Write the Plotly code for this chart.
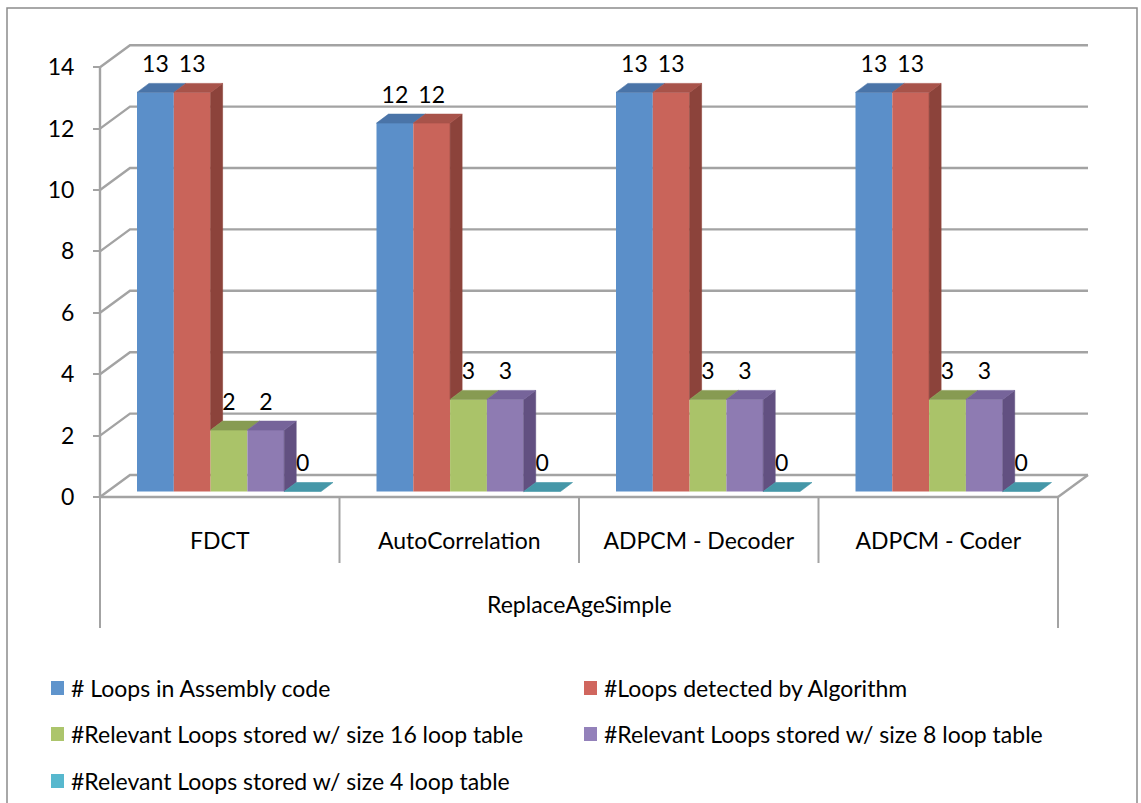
import plotly.graph_objects as go

# ---- data -------------------------------------------------------------
categories = ["FDCT", "AutoCorrelation", "ADPCM - Decoder", "ADPCM - Coder"]
group_label = "ReplaceAgeSimple"
series_names = [
    "# Loops in Assembly code",
    "#Loops detected by Algorithm",
    "#Relevant Loops stored w/ size 16 loop table",
    "#Relevant Loops stored w/ size 8 loop table",
    "#Relevant Loops stored w/ size 4 loop table",
]
loops_assembly = [13, 12, 13, 13]
loops_detected = [13, 12, 13, 13]
relevant_16 = [2, 3, 3, 3]
relevant_8 = [2, 3, 3, 3]
relevant_4 = [0, 0, 0, 0]
y_ticks = [0, 2, 4, 6, 8, 10, 12, 14]

series_values = [loops_assembly, loops_detected, relevant_16, relevant_8, relevant_4]

# ---- styles (front, top, side, legend) ---------------------------------
front_colors = ["#5B8FC9", "#C9645A", "#AAC369", "#8E7BB2", "#4BACC6"]
top_colors = ["#4A74A8", "#A8534A", "#879B52", "#76649A", "#4597A8"]
side_colors = ["#3F6590", "#8C433B", "#748744", "#625081", "#3A8393"]
legend_colors = ["#5F94CC", "#D0665E", "#ACC56C", "#9381BA", "#57B8CE"]
GRID = "#A3A3A3"
FONT = "Lato"
FS = 23

# ---- frame geometry (pixels) -----------------------------------------------
W, H = 1141, 803
FRONT_LEFT_PX = 100      # front-left corner of the floor
CAT_PX = 239.5           # width of one category along the floor
ZERO_PY = 497            # front edge of the floor
UNIT_PY = 30.7           # pixels per value unit


def dx(px):
    return px / CAT_PX


def dy(py):
    return py / UNIT_PY


X_RANGE = [-FRONT_LEFT_PX / CAT_PX - 0.5, (W - FRONT_LEFT_PX) / CAT_PX - 0.5]
Y_RANGE = [(ZERO_PY - H) / UNIT_PY, ZERO_PY / UNIT_PY]

FLOOR_DX, FLOOR_DY = dx(30), dy(22)      # depth of walls/floor
BAR_DX, BAR_DY = dx(12), dy(9)           # depth of a column
BAR_W = dx(36.8)
GROUP_OFF = dx(137 - 219.75)             # left edge of first column vs category centre
LIFT = dy(5.5)                           # columns stand a little behind the front edge
LABEL_GAP = dy(26)

n_cat = len(categories)
x_left = -0.5
x_right = n_cat - 0.5

fig = go.Figure()

# ---- front faces -----------------------------------------------------------
for k, vals in enumerate(series_values):
    fig.add_trace(go.Bar(
        x=list(range(n_cat)), y=vals, base=LIFT,
        offset=GROUP_OFF + k * BAR_W, width=BAR_W,
        marker=dict(color=front_colors[k], line=dict(width=0)),
        name=series_names[k], showlegend=False, hoverinfo="skip",
    ))

# ---- top and right side faces -----------------------------------------------
for k, vals in enumerate(series_values):
    tx, ty, sx, sy = [], [], [], []
    for i in range(n_cat):
        left = i + GROUP_OFF + k * BAR_W
        right = left + BAR_W
        top = LIFT + vals[i]
        tx += [left, right, right + BAR_DX, left + BAR_DX, left, None]
        ty += [top, top, top + BAR_DY, top + BAR_DY, top, None]
        nxt = series_values[k + 1][i] if k + 1 < len(series_values) else 0
        bottom = LIFT + max(nxt, 0)
        if top > bottom:
            sx += [right, right + BAR_DX, right + BAR_DX, right, right, None]
            sy += [bottom, bottom + BAR_DY, top + BAR_DY, top, bottom, None]
    if sx:
        fig.add_trace(go.Scatter(
            x=sx, y=sy, mode="lines", fill="toself", fillcolor=side_colors[k],
            line=dict(width=0.6, color=side_colors[k]),
            showlegend=False, hoverinfo="skip"))
    fig.add_trace(go.Scatter(
        x=tx, y=ty, mode="lines", fill="toself", fillcolor=top_colors[k],
        line=dict(width=0.6, color=top_colors[k]),
        showlegend=False, hoverinfo="skip"))

# ---- value labels -------------------------------------------------------------
for k, vals in enumerate(series_values):
    fig.add_trace(go.Scatter(
        x=[i + GROUP_OFF + (k + 0.5) * BAR_W for i in range(n_cat)],
        y=[LIFT + v + LABEL_GAP for v in vals],
        text=[str(v) for v in vals], mode="text",
        textfont=dict(family=FONT, size=FS, color="#000000"),
        showlegend=False, hoverinfo="skip"))

# ---- walls, floor, gridlines --------------------------------------------------
shapes = []
line_style = dict(color=GRID, width=2.4)
for v in y_ticks:
    path = (f"M {x_left},{v} L {x_left + FLOOR_DX},{v + FLOOR_DY} "
            f"L {x_right + FLOOR_DX},{v + FLOOR_DY}")
    shapes.append(dict(type="path", path=path, xref="x", yref="y",
                       line=line_style, layer="below"))
# floor front and right edges
shapes.append(dict(type="line", xref="x", yref="y", x0=x_left, y0=0, x1=x_right, y1=0,
                   line=line_style, layer="below"))
shapes.append(dict(type="line", xref="x", yref="y", x0=x_right, y0=0,
                   x1=x_right + FLOOR_DX, y1=FLOOR_DY, line=line_style, layer="below"))
# front vertical axis line
shapes.append(dict(type="line", xref="x", yref="y", x0=x_left, y0=0, x1=x_left,
                   y1=y_ticks[-1], line=line_style, layer="below"))
# category dividers (outer ones span both label levels)
inner_bottom = -dy(66)
outer_bottom = -dy(131)
for j in range(n_cat + 1):
    xb = x_left + j
    yb = outer_bottom if j in (0, n_cat) else inner_bottom
    shapes.append(dict(type="line", xref="x", yref="y", x0=xb, y0=0, x1=xb, y1=yb,
                       line=dict(color=GRID, width=2), layer="below"))
# chart border
shapes.append(dict(type="rect", xref="paper", yref="paper",
                   x0=7 / W, x1=1137 / W, y0=-0.01, y1=1 - 8 / H,
                   line=dict(color="#8C8C8C", width=1.5), layer="below"))

# ---- legend (two columns) -------------------------------------------------------
annotations = []
leg_cols = [51, 584]
leg_rows = [688, 734, 781]
for k, name in enumerate(series_names):
    col, row = k % 2, k // 2
    mx, my = leg_cols[col], leg_rows[row]
    shapes.append(dict(type="rect", xref="paper", yref="paper",
                       x0=mx / W, x1=(mx + 13) / W,
                       y0=1 - (my + 7) / H, y1=1 - (my - 7) / H,
                       fillcolor=legend_colors[k], line=dict(width=0)))
    annotations.append(dict(xref="paper", yref="paper", x=(mx + 18) / W, y=1 - my / H,
                            text=name, showarrow=False, xanchor="left", yanchor="middle",
                            font=dict(family=FONT, size=FS, color="#000000")))

# second category level
annotations.append(dict(xref="x", yref="y", x=(n_cat - 1) / 2, y=-dy(604 - ZERO_PY),
                        text=group_label, showarrow=False, xanchor="center",
                        yanchor="middle",
                        font=dict(family=FONT, size=FS, color="#000000")))

fig.update_layout(
    width=W, height=H,
    margin=dict(l=0, r=0, t=0, b=0),
    paper_bgcolor="white", plot_bgcolor="white",
    barmode="overlay",
    showlegend=False,
    shapes=shapes, annotations=annotations,
    xaxis=dict(range=X_RANGE, domain=[0, 1], anchor="free",
               position=(H - ZERO_PY) / H,
               tickmode="array", tickvals=list(range(n_cat)), ticktext=categories,
               ticks="", showgrid=False, zeroline=False, showline=False,
               ticklabelstandoff=28,
               tickfont=dict(family=FONT, size=FS, color="#000000"), fixedrange=True),
    yaxis=dict(range=Y_RANGE, domain=[0, 1], anchor="free",
               position=FRONT_LEFT_PX / W,
               tickmode="array", tickvals=y_ticks, ticks="outside", ticklen=7,
               tickcolor=GRID, tickwidth=2, ticklabelstandoff=14,
               showgrid=False, zeroline=False, showline=False,
               tickfont=dict(family=FONT, size=FS, color="#000000"), fixedrange=True),
)

fig.write_html("out.html")
